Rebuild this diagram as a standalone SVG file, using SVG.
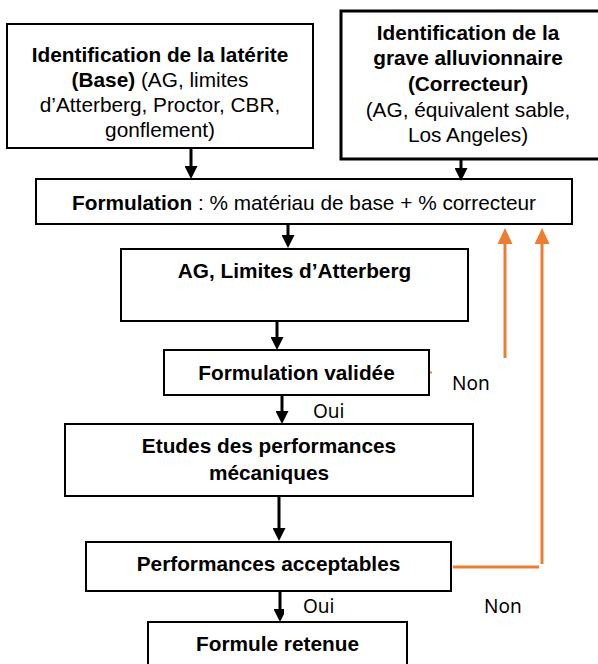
<svg xmlns="http://www.w3.org/2000/svg" width="598" height="664" viewBox="0 0 598 664">
<style>
.box{fill:#fff;stroke:#000;stroke-width:2}
.t{font-family:"Liberation Sans",Arial,sans-serif;font-size:20.8px;fill:#000;text-anchor:middle}
.b{font-weight:bold}
.lbl{font-family:"Noto Sans","Liberation Sans",sans-serif;font-size:19px;fill:#000}
.ar{stroke:#000;stroke-width:3;fill:none}
.or{stroke:#ED7D31;stroke-width:3;fill:none}
</style>
<defs>
<marker id="ah" viewBox="0 0 13 13" refX="0" refY="6.5" markerWidth="13" markerHeight="13" markerUnits="userSpaceOnUse" orient="auto"><path d="M0,0 L13,6.5 L0,13 z" fill="#000"/></marker>
<marker id="oh" viewBox="0 0 16 15" refX="0" refY="7.5" markerWidth="16" markerHeight="15" markerUnits="userSpaceOnUse" orient="auto"><path d="M0,0 L16,7.5 L0,15 z" fill="#ED7D31"/></marker>
<clipPath id="rc"><rect x="341" y="11" width="257" height="137"/></clipPath>
</defs>
<rect width="598" height="664" fill="#fff"/>

<g id="n-laterite">
<rect class="box" x="7" y="24" width="306" height="124"/>
<text class="t b" x="160" y="62">Identification de la latérite</text>
<text class="t" x="160" y="87"><tspan class="b">(Base)</tspan> (AG, limites</text>
<text class="t" x="160" y="112">d’Atterberg, Proctor, CBR,</text>
<text class="t" x="160" y="137">gonflement)</text>
</g>

<g id="n-grave">
<rect class="box" x="341" y="11" width="280" height="148" style="stroke-width:3"/>
<g clip-path="url(#rc)">
<text class="t b" x="468" y="40">Identification de la</text>
<text class="t b" x="468" y="65">grave alluvionnaire</text>
<text class="t b" x="468" y="91">(Correcteur)</text>
<text class="t" x="468" y="117">(AG, équivalent sable,</text>
<text class="t" x="468" y="142">Los Angeles)</text>
</g>
</g>

<g id="n-formulation">
<rect class="box" x="36" y="179" width="536" height="45"/>
<text class="t" x="304" y="210"><tspan class="b">Formulation</tspan> : % matériau de base + % correcteur</text>
</g>

<g id="n-ag">
<rect class="box" x="121" y="249" width="347" height="72"/>
<text class="t b" x="294.5" y="278">AG, Limites d’Atterberg</text>
</g>

<g id="n-validee">
<rect class="box" x="164" y="350" width="265" height="45"/>
<text class="t b" x="296.5" y="380">Formulation validée</text>
</g>

<g id="n-etudes">
<rect class="box" x="65" y="424" width="408" height="72"/>
<text class="t b" x="269" y="453">Etudes des performances</text>
<text class="t b" x="269" y="480">mécaniques</text>
</g>

<g id="n-perf">
<rect class="box" x="86" y="542" width="365" height="49"/>
<text class="t b" x="268.5" y="571">Performances acceptables</text>
</g>

<g id="n-formule">
<rect class="box" x="148" y="622" width="259" height="60"/>
<text class="t b" x="277.5" y="651">Formule retenue</text>
</g>

<g id="connectors">
<line class="ar" x1="191" y1="148" x2="191" y2="166" marker-end="url(#ah)"/>
<line class="ar" x1="461" y1="159" x2="461" y2="168" marker-end="url(#ah)"/>
<line class="ar" x1="288" y1="224" x2="288" y2="235" marker-end="url(#ah)"/>
<line class="ar" x1="277" y1="321" x2="277" y2="337" marker-end="url(#ah)"/>
<line class="ar" x1="282" y1="396" x2="282" y2="411" marker-end="url(#ah)"/>
<line class="ar" x1="279" y1="497" x2="279" y2="528" marker-end="url(#ah)"/>
<line class="ar" x1="280" y1="592" x2="280" y2="609" marker-end="url(#ah)"/>

<line class="or" x1="505" y1="358" x2="505" y2="244" marker-end="url(#oh)"/>
<line class="or" x1="542" y1="564" x2="542" y2="244" marker-end="url(#oh)"/>
<line class="or" x1="453" y1="567" x2="539" y2="567"/>
<line class="or" x1="430" y1="372.5" x2="432" y2="372.5" style="stroke-width:2"/>

<rect x="293" y="396" width="85" height="27" fill="#fff"/>
<text class="lbl" x="313" y="418">Oui</text>
<text class="lbl" x="452" y="390">Non</text>

<rect x="284" y="592" width="84" height="29" fill="#fff"/>
<text class="lbl" x="303" y="613">Oui</text>
<text class="lbl" x="484" y="613">Non</text>
</g>
</svg>
